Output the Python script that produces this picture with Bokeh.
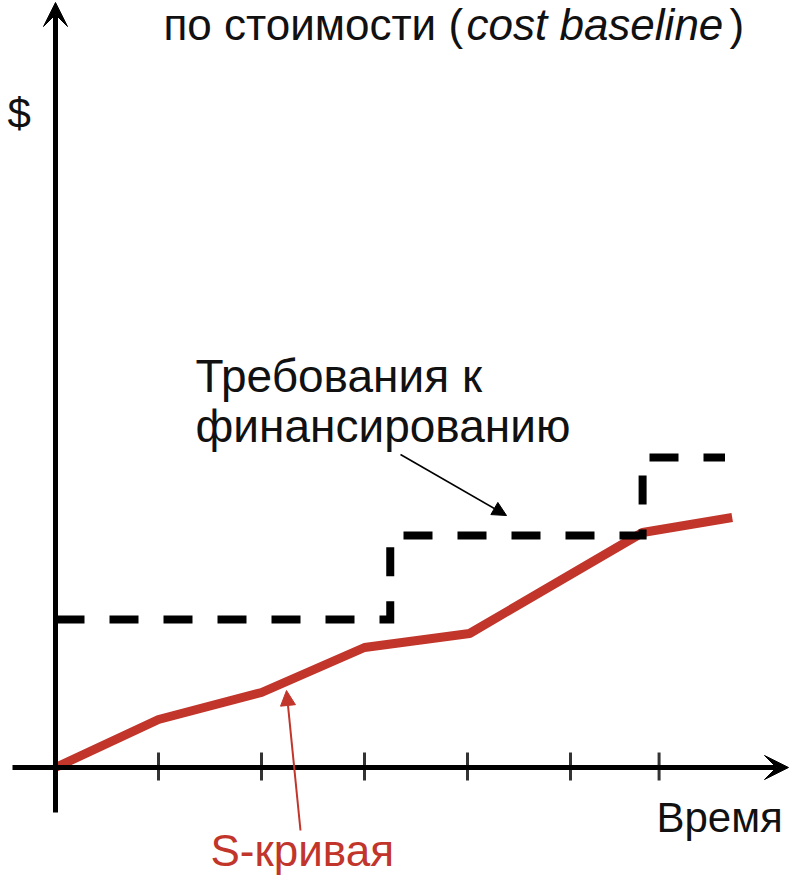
from bokeh.plotting import figure
from bokeh.models import Range1d, Arrow, VeeHead, NormalHead
from bokeh.core.properties import value
from bokeh.embed import file_html
from bokeh.resources import INLINE

# ---- data (time units, $ units) ----
time_ticks = [1, 2, 3, 4, 5, 5.86]
s_curve_t = [0, 1, 2, 3, 4.02, 5.7, 6.57]
s_curve_cost = [0, 0.96, 1.5, 2.4, 2.68, 4.7, 5.0]
funding_steps_t = [0, 3.25, 5.7, 6.5]      # step boundaries
funding_levels = [2.96, 4.64, 6.2]          # level within each step

title_parts = ["по стоимости (", "cost baseline", ")"]
funding_label = ["Требования к", "финансированию"]
y_label = "$"
x_label = "Время"
s_label = "S-кривая"

# ---- layout ----
W, H = 789, 876
X0, Y0 = 63, 775          # origin in page pixels
PXT, PXY = 103.0, 50.0    # pixels per unit


def tx(px):
    return (px - X0) / PXT


def ty(py):
    return (Y0 - py) / PXY


RED = "#c1352b"
FONT = "Liberation Sans"

p = figure(width=W, height=H, output_backend="svg", toolbar_location=None,
           x_range=Range1d(tx(8), tx(8 + W)), y_range=Range1d(ty(8 + H), ty(8)),
           min_border=0)
p.axis.visible = False
p.grid.visible = False
p.outline_line_color = None
p.background_fill_color = "white"
p.border_fill_color = "white"

# axes with arrows
p.add_layout(Arrow(x_start=tx(20), y_start=0, x_end=tx(796), y_end=0,
                   line_width=5, line_color="black",
                   end=VeeHead(size=24, fill_color="black", line_color="black", line_width=1)))
p.add_layout(Arrow(x_start=0, y_start=ty(820), x_end=0, y_end=ty(10),
                   line_width=5, line_color="black",
                   end=VeeHead(size=24, fill_color="black", line_color="black", line_width=1)))

# ticks
p.segment(x0=time_ticks, y0=[ty(760)] * len(time_ticks),
          x1=time_ticks, y1=[ty(788)] * len(time_ticks),
          line_width=3, line_color="#333333")

# S-curve
p.line(s_curve_t, s_curve_cost, line_width=9, line_color=RED, line_join="round")

# funding requirement step line
fx, fy = [], []
for i, lvl in enumerate(funding_levels):
    fx += [funding_steps_t[i], funding_steps_t[i + 1]]
    fy += [lvl, lvl]
p.line(fx, fy, line_width=8, line_color="black", line_dash="29 25", line_join="miter")

# annotation arrows
p.add_layout(Arrow(x_start=tx(408), y_start=ty(462), x_end=tx(514), y_end=ty(523),
                   line_width=1.6, line_color="black",
                   end=NormalHead(size=14, fill_color="black", line_color="black", line_width=1)))
p.add_layout(Arrow(x_start=tx(308), y_start=ty(838), x_end=tx(294), y_end=ty(698),
                   line_width=2, line_color=RED,
                   end=NormalHead(size=15, fill_color=RED, line_color=RED, line_width=1)))


# texts (y is the intended baseline; compensate the renderer's baseline offset)
def txt(x, y, s, size, color="#111111", style="normal"):
    shift = 0.35 * size
    p.text(x=[tx(x)], y=[ty(y - shift)], text=[s], text_font=value(FONT),
           text_font_size=f"{size}px", text_color=color, text_baseline="alphabetic",
           text_align="left", text_font_style=style)


txt(171, 47, title_parts[0], 44)
txt(474, 47, title_parts[1], 44, style="italic")
txt(737, 47, title_parts[2], 44)
txt(15, 136, y_label, 42)
txt(203, 400, funding_label[0], 46)
txt(203, 450, funding_label[1], 46)
txt(664, 840, x_label, 42)
txt(218, 873, s_label, 44, color=RED)

open("out.html", "w").write(file_html(p, INLINE))
